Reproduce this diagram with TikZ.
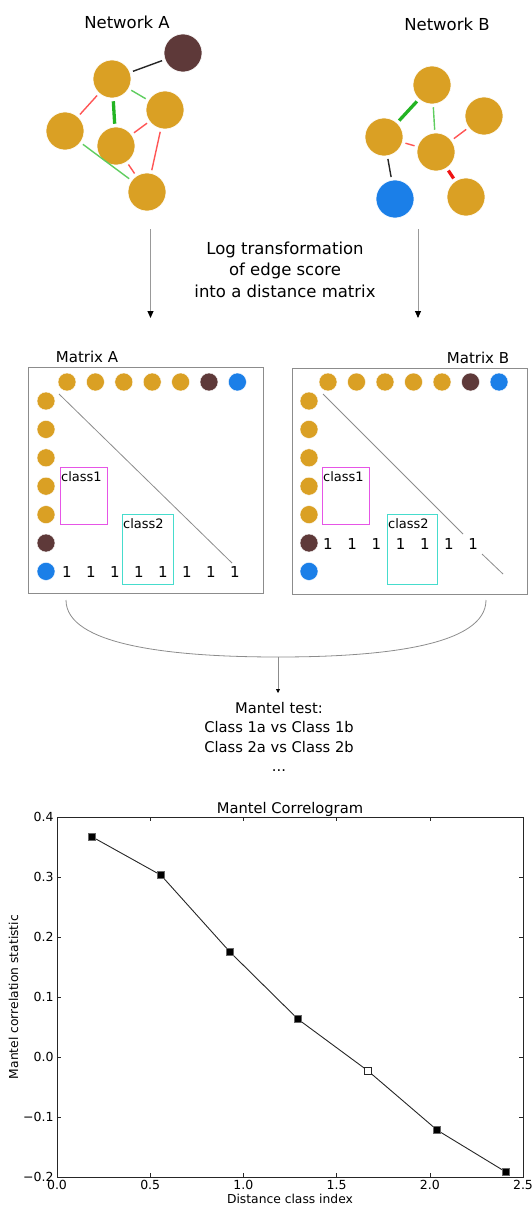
\documentclass[tikz,border=0pt]{standalone}
\usepackage{fontspec}
\setmainfont{DejaVu Sans}
\usepackage{pgfplots}
\pgfplotsset{compat=1.18}
\usetikzlibrary{
  arrows.meta, % for the Triangle arrow tips
  positioning, % for relative placement of the text nodes
}
\definecolor{gold}{RGB}{218,160,36}
\definecolor{plum}{RGB}{94,57,57}
\definecolor{azure}{RGB}{27,127,232}
\definecolor{softred}{RGB}{255,85,85}
\definecolor{hardred}{RGB}{240,20,20}
\definecolor{softgreen}{RGB}{95,205,95}
\definecolor{hardgreen}{RGB}{35,180,35}
\definecolor{pinkline}{RGB}{230,85,230}
\definecolor{tealline}{RGB}{70,220,205}
\tikzset{
  vertex/.style={ % style for each network node
    circle,fill=gold,draw=white,line width=0.6pt,
    minimum size=38pt,inner sep=0pt,
  },
  dot/.style={ % small circles naming the matrix rows and columns
    circle,fill=gold,draw=white,line width=0.4pt,
    minimum size=18pt,inner sep=0pt,
  },
  weak/.style={line width=1.4pt,shorten <=3pt,shorten >=3pt}, % thin edge
  strong/.style={line width=3.3pt,shorten <=3pt,shorten >=3pt}, % thick edge
  flow/.style={ % arrows between the stages
    draw=gray!80,line width=0.9pt,
    -{Triangle[width=6pt,length=7pt,black]},
  },
  matbox/.style={ % frame of each distance matrix
    draw=gray!90,line width=1pt,
    minimum width=235pt,minimum height=226pt,inner sep=0pt,
  },
  classbox/.style={line width=1pt,minimum width=47pt,minimum height=57pt,inner sep=0pt},
  classtext/.style={anchor=north west,inner xsep=1.5pt,inner ysep=4.5pt,font=\fontsize{13}{15}\selectfont},
  diag/.style={draw=gray!90,line width=0.8pt},
  one/.style={inner sep=0pt,font=\fontsize{15}{17}\selectfont},
  heading/.style={inner sep=0pt,font=\fontsize{16.5}{21.5}\selectfont,align=center},
  mattitle/.style={inner sep=0pt,font=\fontsize{15}{18}\selectfont},
  caption/.style={inner sep=0pt,font=\fontsize{14.7}{19.5}\selectfont,align=center},
}

\begin{document}
\begin{tikzpicture}[x=1pt,y=-1pt]
	\useasboundingbox (0,0) rectangle (531,1209);

	% network A
	\node[heading] (titleA) at (127,22) {Network A};
	\node[vertex,fill=plum] (a1) at (183,53) {};
	\node[vertex] (a2) at (112,79) {};
	\node[vertex] (a3) at (165,110) {};
	\node[vertex] (a4) at (65,131) {};
	\node[vertex] (a5) at (116,146) {};
	\node[vertex] (a6) at (147,192) {};
	\draw[weak,black!85] (a2) -- (a1);
	\draw[weak,softgreen] (a2) -- (a3);
	\draw[strong,hardgreen] (a2) -- (a5);
	\draw[weak,softred] (a2) -- (a4);
	\draw[weak,softred] (a5) -- (a3);
	\draw[weak,softred] (a3) -- (a6);
	\draw[weak,softred] (a5) -- (a6);
	\draw[weak,softgreen] (a4) -- (a6);

	% network B
	\node[heading] (titleB) at (447,24) {Network B};
	\node[vertex] (b1) at (432,85) {};
	\node[vertex] (b2) at (484,116) {};
	\node[vertex] (b3) at (384,137) {};
	\node[vertex] (b4) at (436,152) {};
	\node[vertex,fill=azure] (b5) at (395,199) {};
	\node[vertex] (b6) at (466,197) {};
	\draw[strong,hardgreen] (b1) -- (b3);
	\draw[weak,softgreen] (b1) -- (b4);
	\draw[weak,softred] (b3) -- (b4);
	\draw[weak,softred] (b4) -- (b2);
	\draw[strong,hardred] (b4) -- (b6);
	\draw[weak,black!85] (b3) -- (b5);

	% log transformation step
	\coordinate (srcA) at (150.5,229);
	\coordinate (dstA) at (150.5,318);
	\coordinate (srcB) at (418,229);
	\coordinate (dstB) at (418,318);
	\draw[flow] (srcA) -- (dstA);
	\draw[flow] (srcB) -- (dstB);
	\node[heading] (logtxt) at (285,269.5) {Log transformation\\of edge score\\into a distance matrix};

	% matrix A
	\node[matbox] (matA) at (145.5,480) {};
	\node[mattitle] (titleMA) at (87,357) {Matrix A};
	\foreach \c [count=\i from 0] in {gold,gold,gold,gold,gold,plum,azure}{
		\node[dot,fill=\c] (topA\i) at (67+28.4*\i,382) {};
		\node[dot,fill=\c] (sideA\i) at (46,401+28.4*\i) {};
	}
	\draw[diag] (59,394) -- (232,563);
	\node[classbox,draw=pinkline] (clsA1) at (83.5,495.5) {};
	\node[classtext] at (clsA1.north west) {class1};
	\node[classbox,draw=tealline,minimum width=51pt,minimum height=70pt] (clsA2) at (147.5,549) {};
	\node[classtext] at (clsA2.north west) {class2};
	\foreach \k in {0,...,7}
		\node[one] (oneA\k) at (67+24*\k,572) {1};

	% matrix B
	\node[matbox] (matB) at (409.5,481) {};
	\node[mattitle] (titleMB) at (478,358) {Matrix B};
	\foreach \c [count=\i from 0] in {gold,gold,gold,gold,gold,plum,azure}{
		\node[dot,fill=\c] (topB\i) at (328+28.5*\i,382) {};
		\node[dot,fill=\c] (sideB\i) at (309,401+28.4*\i) {};
	}
	\draw[diag] (323,394) -- (463,534);
	\draw[diag] (482,554) -- (503,574);
	\node[classbox,draw=pinkline] (clsB1) at (345.5,495.5) {};
	\node[classtext] at (clsB1.north west) {class1};
	\node[classbox,draw=tealline,minimum width=50pt,minimum height=70pt] (clsB2) at (412,549) {};
	\node[classtext] at (clsB2.north west) {class2};
	\foreach \k in {0,...,6}
		\node[one] (oneB\k) at (328+24.2*\k,544) {1};

	% mantel test
	\coordinate (joinL) at (66,600);
	\coordinate (joinR) at (486,600);
	\coordinate (joinM) at (278,657);
	\coordinate (testtip) at (278,693);
	\draw[diag] (joinL) .. controls (66,645) and (170,657) .. (joinM)
		.. controls (386,657) and (486,645) .. (joinR);
	\draw[diag,-{Triangle[width=4pt,length=4pt,black]}] (joinM) -- (testtip);
	\node[caption] (mantel) at (279,737) {Mantel test:\\Class 1a vs Class 1b\\Class 2a vs Class 2b\\...};

	% correlogram
	\begin{axis}[
		at={(57pt,-1177pt)},anchor=south west,
		scale only axis,width=466pt,height=360pt,
		xmin=0,xmax=2.5,ymin=-0.2,ymax=0.4,
		xtick={0,0.5,1,1.5,2,2.5},
		xticklabels={0.0,0.5,1.0,1.5,2.0,2.5},
		ytick={-0.2,-0.1,0,0.1,0.2,0.3,0.4},
		yticklabels={−0.2,−0.1,0.0,0.1,0.2,0.3,0.4},
		tick label style={font=\fontsize{12.5}{14}\selectfont},
		label style={font=\fontsize{12.3}{14}\selectfont},
		title style={font=\fontsize{14.7}{17}\selectfont,yshift=-9pt},
		axis line style={black!85,line width=0.9pt},
		major tick style={black!85,line width=0.6pt},
		title={Mantel Correlogram},
		xlabel={Distance class index},
		ylabel={Mantel correlation statistic},
		xlabel style={yshift=3pt},
		ylabel style={yshift=-2pt},
	]
		\addplot[black!85,line width=0.9pt,mark=square*,mark size=3.4pt,
			mark options={fill=black,draw=black!60}]
			coordinates {(0.188,0.367) (0.558,0.303) (0.928,0.175) (1.293,0.063)
				(1.668,-0.023) (2.04,-0.122) (2.41,-0.192)};
		\addplot[only marks,mark=square*,mark size=3.4pt,
			mark options={fill=white,draw=black!85,line width=0.7pt}]
			coordinates {(1.668,-0.023)};
	\end{axis}

\end{tikzpicture}
\end{document}
